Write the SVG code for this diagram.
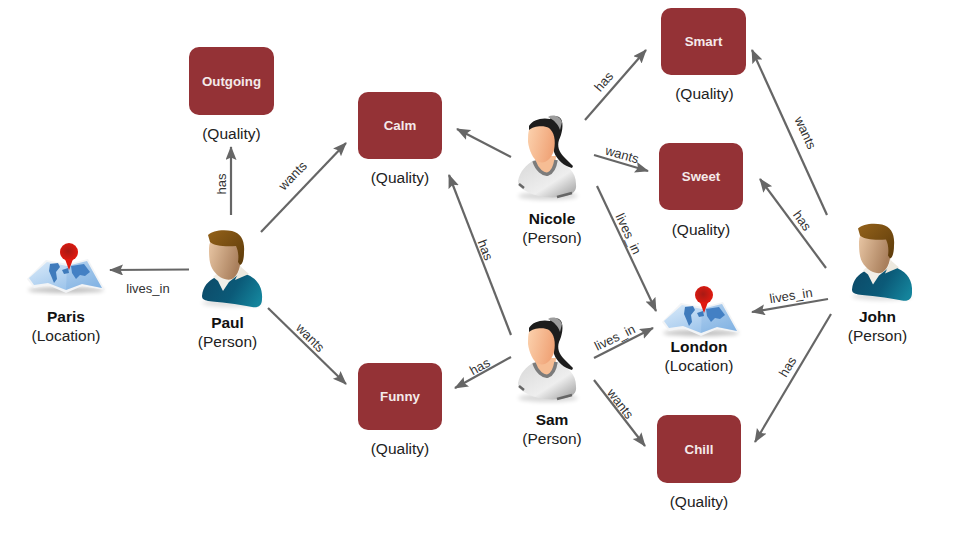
<svg xmlns="http://www.w3.org/2000/svg" width="960" height="540" viewBox="0 0 960 540">
<style>
text{font-family:"Liberation Sans",Arial,sans-serif;fill:#222;text-anchor:middle}
.t{font-size:15.500px}
.n{font-size:15.500px;font-weight:bold;fill:#111}
.e{font-size:13px;fill:#333}
.q{font-size:13.300px;font-weight:bold;fill:#f4eaea}
.box{fill:#943236}
.c line{stroke:#666;stroke-width:2.2;marker-end:url(#arrow)}
</style>
<defs>
<marker id="arrow" markerUnits="userSpaceOnUse" markerWidth="16" markerHeight="12" refX="13" refY="5.500" orient="auto">
<path d="M0 0L14 5.500L0 11L2.500 5.500Z" fill="#666"/>
</marker>
<linearGradient id="skinM" x1="0" y1="0" x2="1" y2="0.4"><stop offset="0" stop-color="#eccaa8"/><stop offset="1" stop-color="#a97f5c"/></linearGradient>
<linearGradient id="hair" x1="0" y1="0" x2="1" y2="1"><stop offset="0" stop-color="#94621a"/><stop offset="1" stop-color="#5c3a0a"/></linearGradient>
<linearGradient id="teal" x1="0" y1="0.3" x2="1" y2="0.7"><stop offset="0" stop-color="#0d4a68"/><stop offset="0.55" stop-color="#0b5a78"/><stop offset="1" stop-color="#14839b"/></linearGradient>
<linearGradient id="skinF" x1="0" y1="0" x2="1" y2="0.3"><stop offset="0" stop-color="#fcd2ae"/><stop offset="1" stop-color="#f0a478"/></linearGradient>
<linearGradient id="shirt" x1="0" y1="0" x2="1" y2="1"><stop offset="0" stop-color="#d8d8d8"/><stop offset="0.6" stop-color="#eeeeee"/><stop offset="1" stop-color="#9a9a9a"/></linearGradient>
<linearGradient id="sea" x1="0" y1="0" x2="1" y2="1"><stop offset="0" stop-color="#dcecfa"/><stop offset="1" stop-color="#86b6e6"/></linearGradient>
<radialGradient id="pin" cx="0.45" cy="0.45" r="0.55"><stop offset="0" stop-color="#a81a14"/><stop offset="1" stop-color="#e01a10"/></radialGradient>
<filter id="soft" x="-20%" y="-50%" width="140%" height="200%"><feGaussianBlur stdDeviation="2"/></filter>

<g id="man">
<ellipse cx="232" cy="303" rx="30" ry="4" fill="#000" opacity="0.12" filter="url(#soft)"/>
<path d="M202 296C203 286 208 281 216 277L224 272L238 268L248 275C257 279 263 287 262 299C262 306 258 308 252 307C238 304 218 302 208 301C204 300 202 299 202 296Z" fill="url(#teal)"/>
<path d="M213 277L222 269L240 264L243 271L229 282L223 291L218 281Z" fill="#f2efe8"/>
<path d="M235 280L241 267L249 274Z" fill="#ece8de"/>
<path d="M209 248C209 238 218 233 228 234C238 235 241 244 241 254C241 266 238 276 232 279C224 282 214 274 211 266C209 260 209 254 209 248Z" fill="url(#skinM)"/>
<path d="M208 235C212 231 222 229 232 231C241 233 245 241 244 252C244 258 243 264 240 265L238 262C239 256 238 250 236 246C226 247 214 246 210 242Z" fill="url(#hair)"/>
</g>

<g id="woman">
<ellipse cx="548" cy="196" rx="30" ry="4" fill="#000" opacity="0.15" filter="url(#soft)"/>
<path d="M518 181C520 171 526 165 534 160L558 160C568 166 576 172 576 184C577 192 572 194 566 196C552 199 535 197 526 191C520 188 518 186 518 181Z" fill="url(#shirt)"/>
<path d="M535 156L536 168L548 175L555 168L556 156Z" fill="#f6bd94"/>
<path d="M534 161C537 170 543 175 548 174C553 172 555 167 556 160" fill="none" stroke="#7c7c7c" stroke-width="3.500"/>
<path d="M519 184L524 188M557 197L572 193" stroke="#666" stroke-width="2.500" fill="none"/>
<path d="M529 126C532 120 542 117 550 119C552 116 558 115 561 119C564 124 562 134 559 140C557 146 559 152 564 157L573 166L572 168C564 166 557 160 554 152L552 140L529 135Z" fill="#1d1d1d"/>
<path d="M548 117C553 114 560 116 562 122L560 130C558 124 554 120 548 117Z" fill="#9c9c9c"/>
<path d="M529 130C533 126 544 125 549 128C554 132 556 140 554 150C552 158 546 164 539 162C533 160 529 150 528 142C528 137 528 133 529 130Z" fill="url(#skinF)"/>
</g>

<g id="map">
<ellipse cx="66" cy="290" rx="38" ry="3" fill="#000" opacity="0.25" filter="url(#soft)"/>
<path d="M27 279L46 260L68 264L88 259L105 290L82 286L66 293L48 285L34 288Z" fill="#f2f4f6"/>
<path d="M29 278L47 262L67 266L87 261L102 288L82 284L66 290L48 283L34 285Z" fill="url(#sea)"/>
<path d="M67 266L87 261L102 288L82 284L66 290Z" fill="#5b93d4" opacity="0.18"/>
<path d="M50 264L58 263L60 267L56 272L57 279L54 283L52 278L49 271Z" fill="#3f7bbc"/>
<path d="M71 266L84 264L90 272L85 276L80 275L76 279L72 273Z" fill="#4380c4"/>
<path d="M62 270L68 268L69 273L64 274Z" fill="#3f7bbc"/>
<circle cx="69" cy="252" r="9" fill="url(#pin)"/>
<path d="M65 259L73 259L69 270Z" fill="#e01a10"/>
</g>
</defs>

<g id="connectors" class="c">
<line x1="231" y1="215" x2="231" y2="147"/>
<line x1="261" y1="232" x2="346" y2="143"/>
<line x1="189" y1="269.500" x2="110" y2="270"/>
<line x1="268" y1="308" x2="346" y2="384"/>
<line x1="511" y1="157" x2="457" y2="129"/>
<line x1="585" y1="120" x2="646" y2="50"/>
<line x1="594" y1="155" x2="648" y2="171"/>
<line x1="597" y1="186" x2="656" y2="311"/>
<line x1="511" y1="335" x2="449" y2="175"/>
<line x1="594" y1="358" x2="653" y2="328"/>
<line x1="511" y1="357" x2="455" y2="388"/>
<line x1="594" y1="380" x2="645" y2="446"/>
<line x1="827" y1="215" x2="752" y2="50"/>
<line x1="826" y1="268" x2="760" y2="179"/>
<line x1="828" y1="299" x2="752" y2="312"/>
<line x1="831" y1="314" x2="755" y2="442"/>
</g>

<g id="connector-labels">
<text class="e" y="4" transform="translate(222 184) rotate(-90)">has</text>
<text class="e" y="4" transform="translate(293 176) rotate(-46)">wants</text>
<text class="e" x="148" y="293">lives_in</text>
<text class="e" y="4" transform="translate(310 338) rotate(45)">wants</text>
<text class="e" y="4" transform="translate(604 82) rotate(-49)">has</text>
<text class="e" y="4" transform="translate(622 155) rotate(16)">wants</text>
<text class="e" y="4" transform="translate(628 234) rotate(65)">lives_in</text>
<text class="e" y="4" transform="translate(485 250) rotate(69)">has</text>
<text class="e" y="4" transform="translate(615 338) rotate(-26)">lives_in</text>
<text class="e" y="4" transform="translate(480 367) rotate(-29)">has</text>
<text class="e" y="4" transform="translate(620 404) rotate(52)">wants</text>
<text class="e" y="4" transform="translate(805 133) rotate(65)">wants</text>
<text class="e" y="4" transform="translate(802 221) rotate(54)">has</text>
<text class="e" y="4" transform="translate(791 296) rotate(-9)">lives_in</text>
<text class="e" y="4" transform="translate(788 367) rotate(-59)">has</text>
</g>

<g id="outgoing"><rect class="box" x="189" y="47" width="85" height="68" rx="10"/><text class="q" x="231.500" y="86">Outgoing</text><text class="t" x="231.500" y="139">(Quality)</text></g>
<g id="calm"><rect class="box" x="358" y="92" width="84" height="67" rx="10"/><text class="q" x="400" y="130">Calm</text><text class="t" x="400" y="183">(Quality)</text></g>
<g id="smart"><rect class="box" x="661" y="8" width="85" height="67" rx="10"/><text class="q" x="703.500" y="46">Smart</text><text class="t" x="704.500" y="99">(Quality)</text></g>
<g id="sweet"><rect class="box" x="659" y="143" width="84" height="67" rx="10"/><text class="q" x="701" y="181">Sweet</text><text class="t" x="701" y="235">(Quality)</text></g>
<g id="funny"><rect class="box" x="358" y="363" width="84" height="67" rx="10"/><text class="q" x="400" y="401">Funny</text><text class="t" x="400" y="454">(Quality)</text></g>
<g id="chill"><rect class="box" x="657" y="415" width="84" height="68" rx="10"/><text class="q" x="699" y="454">Chill</text><text class="t" x="699" y="507">(Quality)</text></g>

<g id="paris"><use href="#map"/><text class="n" x="66" y="322">Paris</text><text class="t" x="66" y="341">(Location)</text></g>
<g id="london"><use href="#map" x="635" y="43"/><text class="n" x="699" y="352">London</text><text class="t" x="699" y="371">(Location)</text></g>
<g id="paul"><use href="#man"/><text class="n" x="227.500" y="328">Paul</text><text class="t" x="227.500" y="347">(Person)</text></g>
<g id="john"><use href="#man" x="650" y="-6.500"/><text class="n" x="877.500" y="322">John</text><text class="t" x="877.500" y="341">(Person)</text></g>
<g id="nicole"><use href="#woman"/><text class="n" x="552" y="224">Nicole</text><text class="t" x="552" y="243">(Person)</text></g>
<g id="sam"><use href="#woman" y="202"/><text class="n" x="552" y="425">Sam</text><text class="t" x="552" y="444">(Person)</text></g>
</svg>
